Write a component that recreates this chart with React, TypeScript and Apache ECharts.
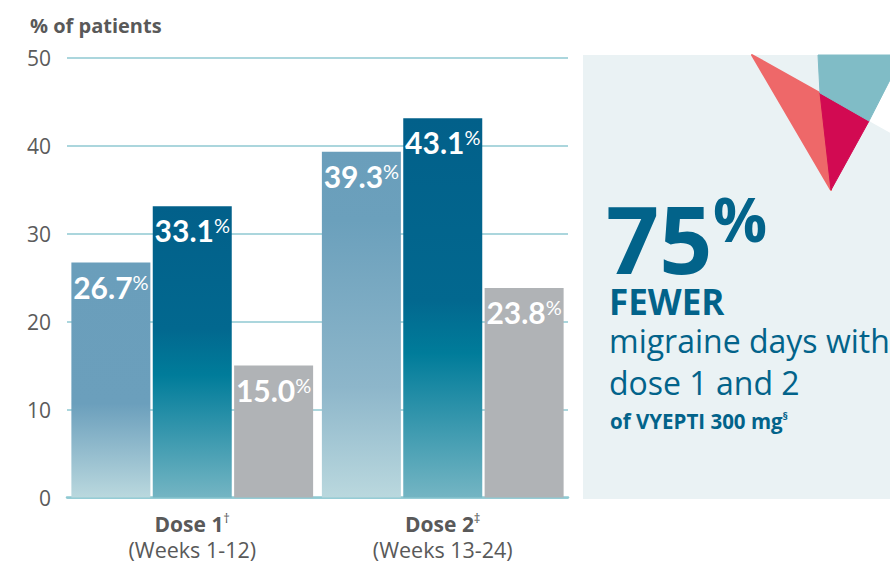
import React, { useEffect, useRef } from "react";
import * as echarts from "echarts";

// ---- data ----
const categories = ["Dose 1", "Dose 2"];
const categoryMarks = ["†", "‡"];
const categoryWeeks = ["(Weeks 1-12)", "(Weeks 13-24)"];
const lightValues = [26.7, 39.3];
const darkValues = [33.1, 43.1];
const greyValues = [15.0, 23.8];
const yMin = 0;
const yMax = 50;
const yInterval = 10;
const yTitle = "% of patients";
const bigNumber = "75";
const panelLines = ["FEWER", "migraine days with", "dose 1 and 2", "of VYEPTI 300 mg"];

const OPEN = "'Open Sans', 'Noto Sans', sans-serif";
const LATO = "Lato, 'Open Sans', sans-serif";
const BLUE = "#02638A";
const GREY_TEXT = "#595959";

const grad = (stops: [number, string][]) =>
  new echarts.graphic.LinearGradient(
    0, 0, 0, 1,
    stops.map(([offset, color]) => ({ offset, color }))
  );

export default function App() {
  const ref = useRef<HTMLDivElement>(null);

  useEffect(() => {
    if (!ref.current) return;
    const chart = echarts.init(ref.current, undefined, { renderer: "svg" });

    const lightGradients = [
      grad([[0, "#6A9EBB"], [0.6, "#6B9FBC"], [1, "#BAD8DE"]]),
      grad([[0, "#6A9EBB"], [0.2, "#6BA0BC"], [0.68, "#8DB6CA"], [1, "#BAD8DE"]]),
    ];
    const darkGradients = [
      grad([[0, "#02608A"], [0.42, "#02688F"], [0.58, "#007C9A"], [1, "#74B5C3"]]),
      grad([[0, "#02608A"], [0.48, "#02688F"], [0.62, "#007C9A"], [1, "#74B5C3"]]),
    ];
    const greyColor = "#B0B3B6";

    const label = {
      show: true,
      position: "insideTop",
      distance: 9,
      formatter: (p: any) => `{n|${Number(p.value).toFixed(1)}}{p|%}`,
      rich: {
        n: { fontFamily: LATO, fontWeight: "bold", fontSize: 30, color: "#fff", lineHeight: 30 },
        p: { fontFamily: LATO, fontWeight: "normal", fontSize: 20, color: "#fff", verticalAlign: "top", lineHeight: 20 },
      },
    };

    const mkSeries = (vals: number[], colors: any[]) => ({
      type: "bar",
      barWidth: 79,
      barGap: "3%",
      data: vals.map((v, i) => ({ value: v, itemStyle: { color: colors[i] } })),
      label,
    });

    chart.setOption({
      animation: false,
      title: {
        text: yTitle,
        left: 25,
        top: 10,
        textStyle: { fontFamily: OPEN, fontWeight: "bold", fontSize: 20, color: GREY_TEXT },
      },
      grid: { left: 67, right: 322, top: 57.5, bottom: 64.5, containLabel: false },
      xAxis: {
        type: "category",
        data: categories,
        axisTick: { show: false },
        axisLine: { lineStyle: { color: "#8FC9D2", width: 2.5 } },
        axisLabel: {
          margin: 14,
          formatter: (v: string, i: number) =>
            `{d|${v}}{s|${categoryMarks[i]}}\n{w|${categoryWeeks[i]}}`,
          rich: {
            d: { fontFamily: OPEN, fontWeight: "bold", fontSize: 21, color: GREY_TEXT, lineHeight: 25 },
            s: { fontFamily: OPEN, fontSize: 13, color: GREY_TEXT, verticalAlign: "top", lineHeight: 15 },
            w: { fontFamily: OPEN, fontSize: 21.5, color: GREY_TEXT, lineHeight: 25 },
          },
        },
      },
      yAxis: {
        type: "value",
        min: yMin,
        max: yMax,
        interval: yInterval,
        axisLine: { show: false },
        axisTick: { show: false },
        axisLabel: { margin: 16, fontFamily: OPEN, fontSize: 21, color: "#5B5B5B" },
        splitLine: { lineStyle: { color: "#8FC9D2", width: 1.5 } },
      },
      series: [
        mkSeries(lightValues, lightGradients),
        mkSeries(darkValues, darkGradients),
        mkSeries(greyValues, [greyColor, greyColor]),
      ],
      graphic: [
        { type: "rect", shape: { x: 583, y: 55, width: 320, height: 444 }, style: { fill: "#EAF2F4" }, z: 0 },
        { type: "polygon", shape: { points: [[869, 121], [892, 76], [892, 134]] }, style: { fill: "#FFFFFF" }, z: 1 },
        { type: "polygon", shape: { points: [[752, 55], [820, 93], [831, 190]] }, style: { fill: "#EE6869", stroke: "#EE6869", lineWidth: 2, lineJoin: "round" }, z: 2 },
        { type: "polygon", shape: { points: [[820, 93], [869, 121], [831, 190]] }, style: { fill: "#D20A52", stroke: "#D20A52", lineWidth: 1, lineJoin: "round" }, z: 2 },
        { type: "polygon", shape: { points: [[818, 55], [892, 55], [892, 76], [869, 121], [820, 93]] }, style: { fill: "#80BCC6", stroke: "#80BCC6", lineWidth: 1, lineJoin: "round" }, z: 2 },
        {
          type: "text", z: 3,
          style: { text: bigNumber, x: 606, y: 238, fill: BLUE, font: `bold 93px ${OPEN}`, lineHeight: 70, textAlign: "left", textVerticalAlign: "middle" },
        },
        {
          type: "text", z: 3,
          style: { text: "%", x: 713, y: 219, fill: BLUE, font: `bold 60px ${OPEN}`, lineHeight: 46, textAlign: "left", textVerticalAlign: "middle" },
        },
        {
          type: "text", z: 3,
          style: { text: panelLines[0], x: 609, y: 301, fill: BLUE, font: `bold 35px ${OPEN}`, lineHeight: 30, textAlign: "left", textVerticalAlign: "middle" },
        },
        {
          type: "text", z: 3,
          style: { text: panelLines[1], x: 609, y: 340, fill: BLUE, font: `normal 32px ${OPEN}`, lineHeight: 36, textAlign: "left", textVerticalAlign: "middle" },
        },
        {
          type: "text", z: 3,
          style: { text: panelLines[2], x: 609, y: 382, fill: BLUE, font: `normal 32px ${OPEN}`, lineHeight: 36, textAlign: "left", textVerticalAlign: "middle" },
        },
        {
          type: "text", z: 3,
          style: {
            text: `{a|${panelLines[3]}}{b|§}`, x: 610, y: 421, fill: BLUE, textAlign: "left", textVerticalAlign: "middle",
            rich: {
              a: { fontFamily: OPEN, fontWeight: "bold", fontSize: 20.5, fill: BLUE, lineHeight: 22 },
              b: { fontFamily: OPEN, fontWeight: "bold", fontSize: 11, fill: BLUE, verticalAlign: "top", lineHeight: 12 },
            },
          },
        },
      ],
    });

    return () => chart.dispose();
  }, []);

  return (
    <div
      ref={ref}
      style={{ position: "fixed", left: 0, top: 0, width: 890, height: 562, background: "#fff" }}
    />
  );
}
